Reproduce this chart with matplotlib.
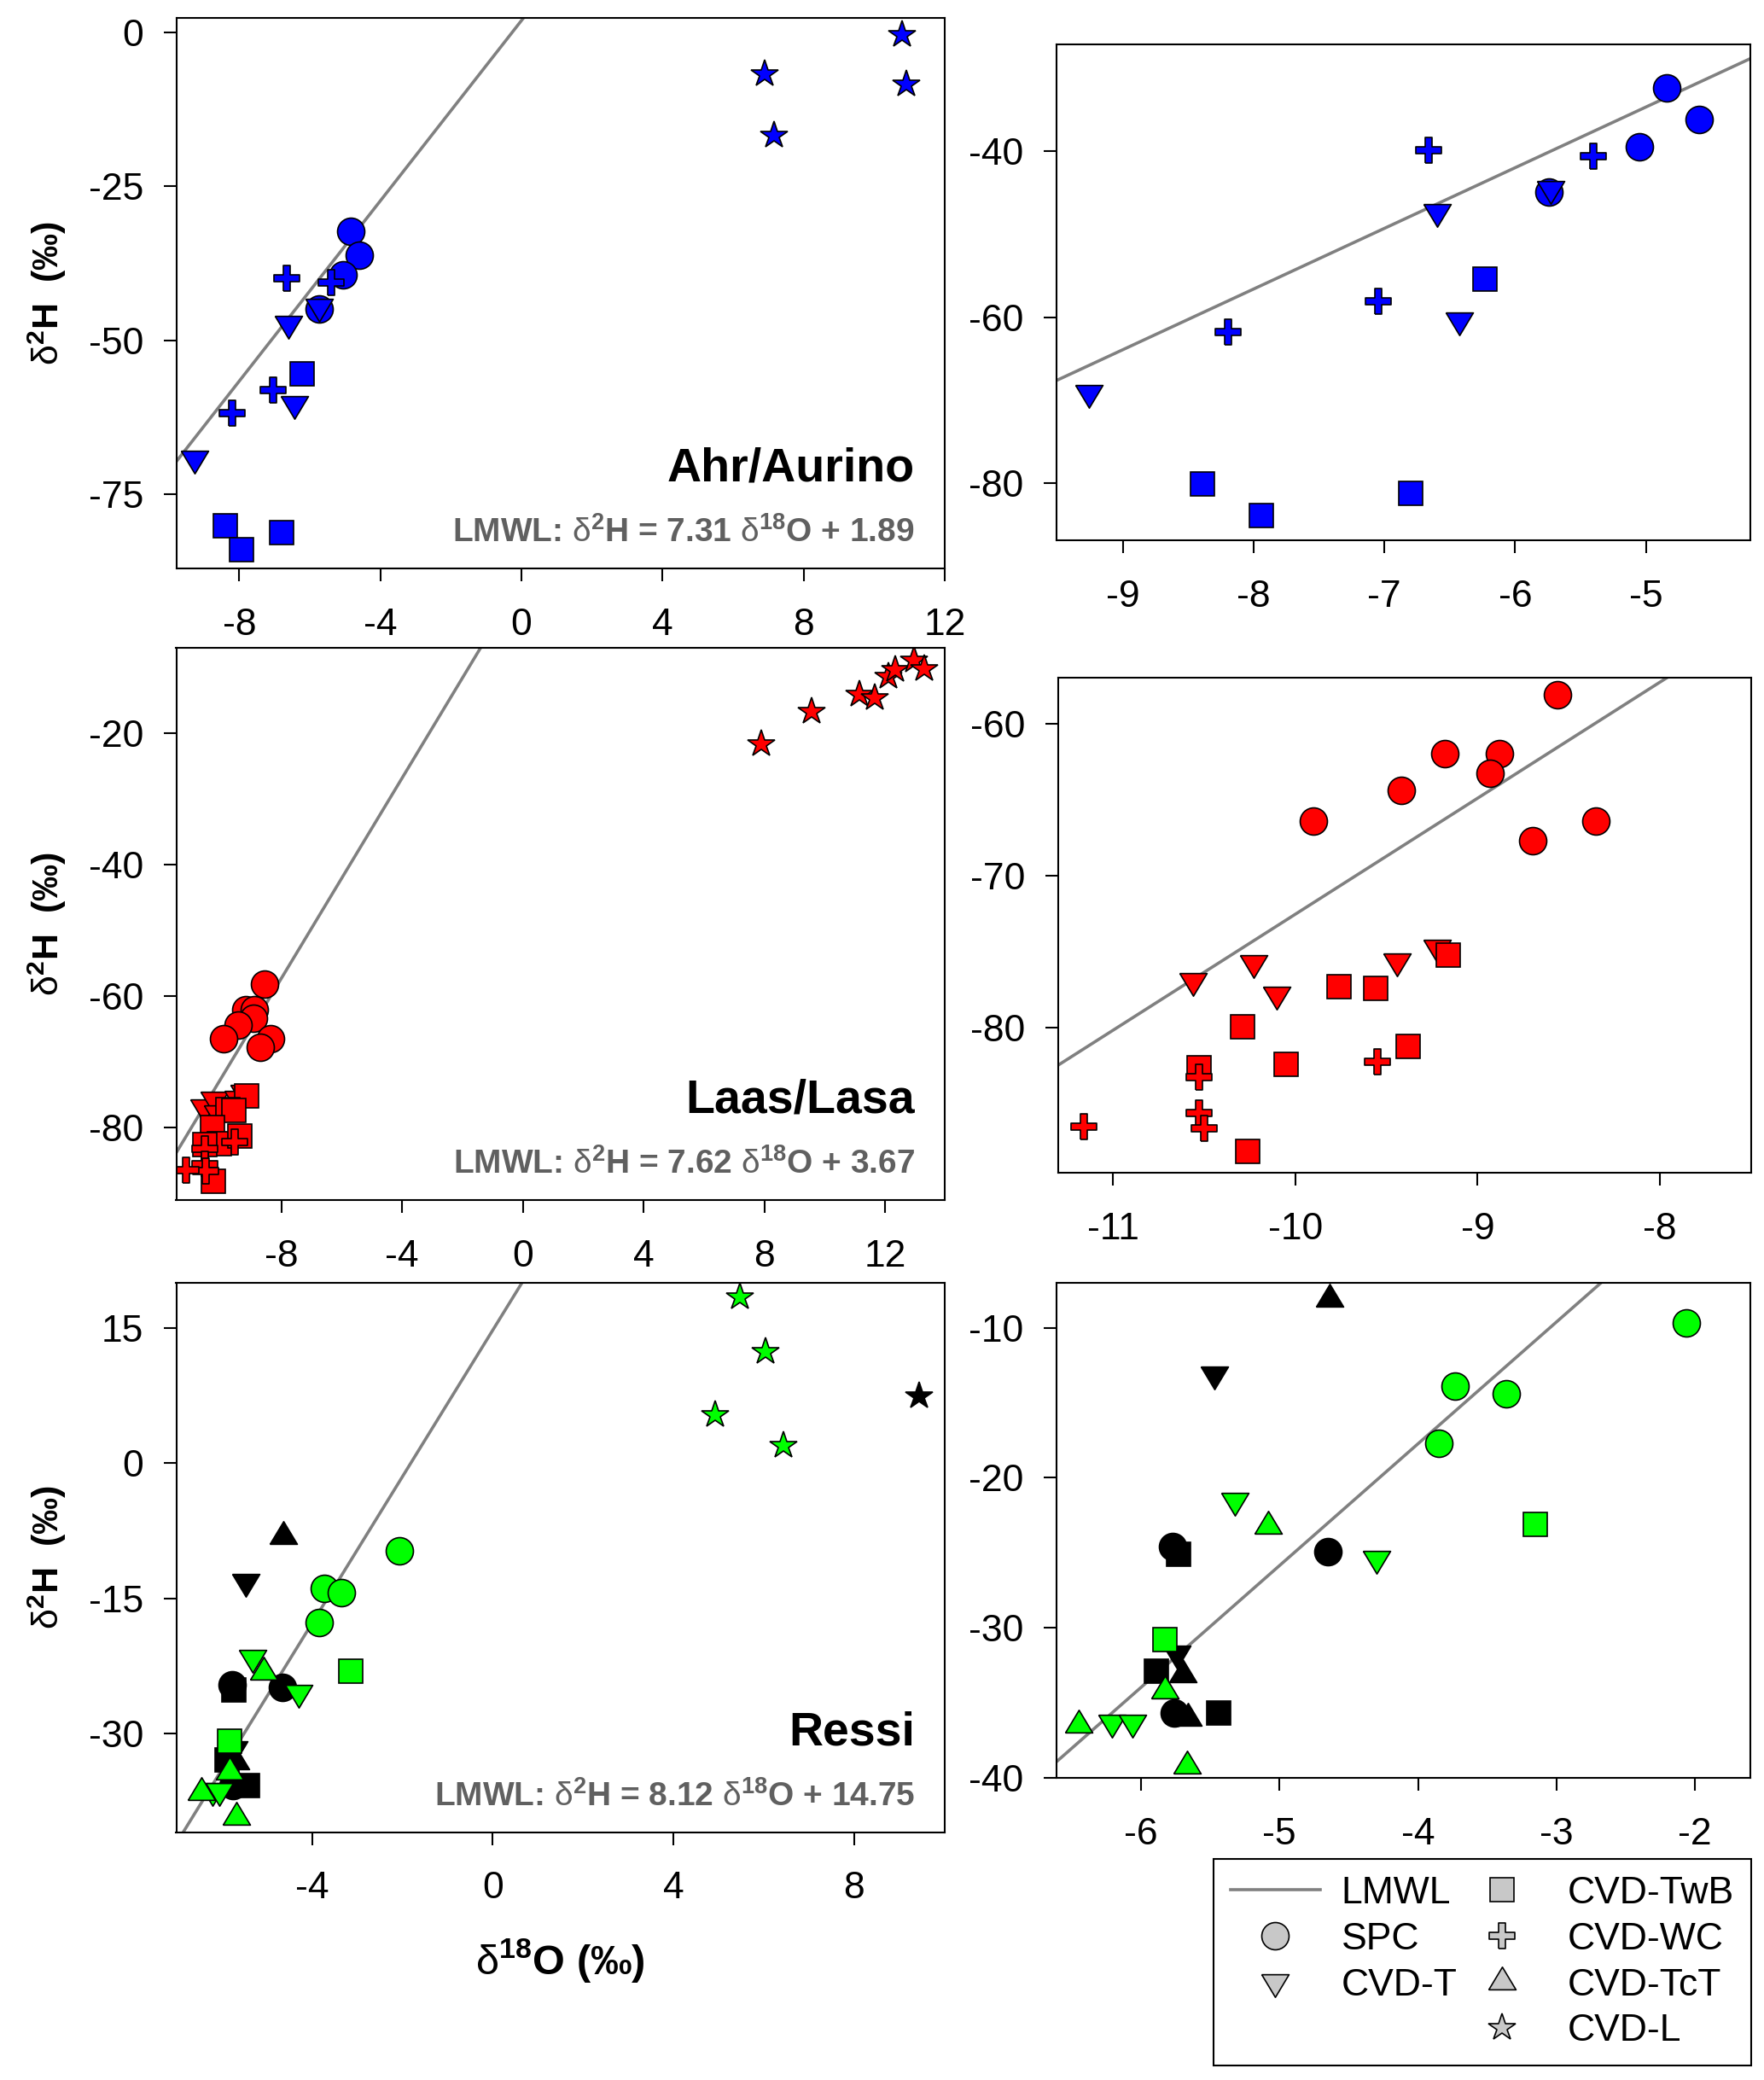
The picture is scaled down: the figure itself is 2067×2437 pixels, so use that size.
import numpy as np
import matplotlib
matplotlib.use('Agg')
import matplotlib.pyplot as plt
from matplotlib.lines import Line2D

plt.rcParams['font.family'] = ['Liberation Sans', 'DejaVu Sans']
plt.rcParams['mathtext.fontset'] = 'custom'
plt.rcParams['mathtext.rm'] = 'Liberation Sans'
plt.rcParams['mathtext.it'] = 'Liberation Sans:italic'
plt.rcParams['mathtext.bf'] = 'Liberation Sans:bold'
plt.rcParams['mathtext.default'] = 'regular'
plt.rcParams['axes.unicode_minus'] = False

# --- Ahr/Aurino (blue) ---
ahr_spc_x = [-4.84, -4.59, -5.05, -5.74]
ahr_spc_y = [-32.3, -36.2, -39.4, -44.9]
ahr_t_x = [-5.73, -6.60, -6.43, -9.26]
ahr_t_y = [-44.5, -47.3, -60.3, -69.1]
ahr_twb_x = [-6.23, -8.39, -7.94, -6.80]
ahr_twb_y = [-55.4, -80.1, -83.9, -81.2]
ahr_wc_x = [-6.66, -5.40, -7.05, -8.20]
ahr_wc_y = [-39.9, -40.6, -58.1, -61.8]
ahr_l_x = [10.8, 6.9, 10.9, 7.15]
ahr_l_y = [-0.5, -6.8, -8.5, -16.8]

# --- Laas/Lasa (red) ---
laas_spc_x = [-8.56, -9.18, -8.88, -8.93, -9.42, -9.90, -8.35, -8.70]
laas_spc_y = [-58.1, -62.0, -62.0, -63.3, -64.4, -66.4, -66.4, -67.7]
laas_t_x = [-10.56, -10.23, -10.10, -9.44, -9.22]
laas_t_y = [-76.9, -75.7, -77.8, -75.6, -74.7]
laas_twb_x = [-9.16, -9.76, -9.56, -10.29, -10.05, -9.38, -10.53, -10.26]
laas_twb_y = [-75.2, -77.3, -77.4, -79.9, -82.4, -81.2, -82.6, -88.1]
laas_wc_x = [-10.53, -9.55, -10.53, -10.50, -11.16]
laas_wc_y = [-83.2, -82.2, -85.6, -86.6, -86.5]
laas_l_x = [7.89, 9.57, 11.15, 11.66, 12.1, 12.33, 12.94, 13.29]
laas_l_y = [-21.7, -16.8, -14.2, -14.6, -11.4, -10.4, -9.0, -10.2]

# --- Ressi (green and black) ---
ressi_spc_x = [-2.06, -3.73, -3.36, -3.85]
ressi_spc_y = [-9.7, -13.9, -14.4, -17.7]
ressi_t_x = [-5.32, -4.30, -6.21, -6.06]
ressi_t_y = [-21.5, -25.4, -36.3, -36.3]
ressi_twb_x = [-3.15, -5.83]
ressi_twb_y = [-23.1, -30.8]
ressi_tct_x = [-5.08, -6.45, -5.83, -5.67]
ressi_tct_y = [-23.2, -36.5, -34.2, -39.2]
ressi_l_x = [5.48, 6.04, 4.92, 6.44]
ressi_l_y = [18.4, 12.3, 5.3, 1.9]

ressi_k_spc_x = [-5.77, -4.65, -5.76]
ressi_k_spc_y = [-24.6, -24.9, -35.7]
ressi_k_t_x = [-5.47, -5.74]
ressi_k_t_y = [-13.1, -31.7]
ressi_k_twb_x = [-5.73, -5.89, -5.44]
ressi_k_twb_y = [-25.1, -32.9, -35.7]
ressi_k_tct_x = [-4.64, -5.70, -5.66]
ressi_k_tct_y = [-8.1, -33.1, -36.0]
ressi_k_l_x = [9.45]
ressi_k_l_y = [7.4]

# LMWL slope / intercept
lmwl_ahr = (7.31, 1.89)
lmwl_laas = (7.62, 3.67)
lmwl_ressi = (8.12, 14.75)

# custom marker shapes
tri_down = [(-1, 0.555), (1, 0.555), (0, -1.11), (-1, 0.555)]
tri_up = [(-1, -0.555), (1, -0.555), (0, 1.11), (-1, -0.555)]
a = 0.24
plus = [(-a, -1), (a, -1), (a, -a), (1, -a), (1, a), (a, a), (a, 1), (-a, 1),
        (-a, a), (-1, a), (-1, -a), (-a, -a), (-a, -1)]

mk = {'spc': ('o', 23), 't': (tri_down, 25.5), 'twb': ('s', 20),
      'wc': (plus, 22), 'tct': (tri_up, 25.5), 'l': ('*', 24)}


def pts(ax, x, y, kind, color):
    m, s = mk[kind]
    ax.plot(x, y, linestyle='none', marker=m, markersize=s, markerfacecolor=color,
            markeredgecolor='black', markeredgewidth=1.2)


W, H = 2067, 2437
fig = plt.figure(figsize=(W / 100, H / 100), dpi=100)


def box(l, t, r, b):
    return [l / W, 1 - b / H, (r - l) / W, (b - t) / H]


axes = {
    'tl': fig.add_axes(box(206.5, 21, 1107, 666)),
    'tr': fig.add_axes(box(1238, 52, 2051, 633)),
    'ml': fig.add_axes(box(206.5, 759, 1107, 1406)),
    'mr': fig.add_axes(box(1240, 794, 2052, 1374)),
    'bl': fig.add_axes(box(206.5, 1503, 1107, 2146.5)),
    'br': fig.add_axes(box(1238, 1503, 2051, 2083)),
}

gray = '#808080'
lw_line = 2.6
for key in ['tl', 'tr']:
    ax = axes[key]
    ax.axline((0, lmwl_ahr[1]), slope=lmwl_ahr[0], color=gray, lw=lw_line)
    pts(ax, ahr_spc_x, ahr_spc_y, 'spc', '#0000FF')
    pts(ax, ahr_t_x, ahr_t_y, 't', '#0000FF')
    pts(ax, ahr_twb_x, ahr_twb_y, 'twb', '#0000FF')
    pts(ax, ahr_wc_x, ahr_wc_y, 'wc', '#0000FF')
    pts(ax, ahr_l_x, ahr_l_y, 'l', '#0000FF')

for key in ['ml', 'mr']:
    ax = axes[key]
    ax.axline((0, lmwl_laas[1]), slope=lmwl_laas[0], color=gray, lw=lw_line)
    pts(ax, laas_spc_x, laas_spc_y, 'spc', '#FF0000')
    pts(ax, laas_t_x, laas_t_y, 't', '#FF0000')
    pts(ax, laas_twb_x, laas_twb_y, 'twb', '#FF0000')
    pts(ax, laas_wc_x, laas_wc_y, 'wc', '#FF0000')
    pts(ax, laas_l_x, laas_l_y, 'l', '#FF0000')

for key in ['bl', 'br']:
    ax = axes[key]
    ax.axline((0, lmwl_ressi[1]), slope=lmwl_ressi[0], color=gray, lw=lw_line)
    pts(ax, ressi_k_spc_x, ressi_k_spc_y, 'spc', 'black')
    pts(ax, ressi_k_twb_x, ressi_k_twb_y, 'twb', 'black')
    pts(ax, ressi_k_t_x, ressi_k_t_y, 't', 'black')
    pts(ax, ressi_k_tct_x, ressi_k_tct_y, 'tct', 'black')
    pts(ax, ressi_k_l_x, ressi_k_l_y, 'l', 'black')
    pts(ax, ressi_spc_x, ressi_spc_y, 'spc', '#00FF00')
    pts(ax, ressi_t_x, ressi_t_y, 't', '#00FF00')
    pts(ax, ressi_twb_x, ressi_twb_y, 'twb', '#00FF00')
    pts(ax, ressi_tct_x, ressi_tct_y, 'tct', '#00FF00')
    pts(ax, ressi_l_x, ressi_l_y, 'l', '#00FF00')

limits = {
    'tl': ((-9.79, 12), (-87, 2.3), [-8, -4, 0, 4, 8, 12], [0, -25, -50, -75]),
    'tr': ((-9.51, -4.2), (-86.9, -27.1), [-9, -8, -7, -6, -5], [-40, -60, -80]),
    'ml': ((-11.48, 13.97), (-91, -7), [-8, -4, 0, 4, 8, 12], [-20, -40, -60, -80]),
    'mr': ((-11.30, -7.50), (-89.5, -57.0), [-11, -10, -9, -8], [-60, -70, -80]),
    'bl': ((-7.01, 10.01), (-40.9, 20.0), [-4, 0, 4, 8], [15, 0, -15, -30]),
    'br': ((-6.61, -1.60), (-40, -7.0), [-6, -5, -4, -3, -2], [-10, -20, -30, -40]),
}

for key, ax in axes.items():
    xl, yl, xt, yt = limits[key]
    ax.set_xlim(xl)
    ax.set_ylim(yl)
    ax.set_xticks(xt)
    ax.set_yticks(yt)
    for sp in ax.spines.values():
        sp.set_linewidth(1.5)
    ax.tick_params(direction='out', length=10.8, width=1.5, labelsize=32,
                   top=False, right=False)
    ax.tick_params(axis='x', pad=22)
    ax.tick_params(axis='y', pad=17)

names = {'tl': ('Ahr/Aurino', r'LMWL: $\mathrm{\delta}^{2}$H = 7.31 $\mathrm{\delta}^{18}$O + 1.89'),
         'ml': ('Laas/Lasa', r'LMWL: $\mathrm{\delta}^{2}$H = 7.62 $\mathrm{\delta}^{18}$O + 3.67'),
         'bl': ('Ressi', r'LMWL: $\mathrm{\delta}^{2}$H = 8.12 $\mathrm{\delta}^{18}$O + 14.75')}
for key, (nm, eq) in names.items():
    ax = axes[key]
    ax.text(0.961, 0.18, nm, transform=ax.transAxes, ha='right', va='center',
            fontsize=40, fontweight='bold')
    ax.text(0.961, 0.065, eq, transform=ax.transAxes, ha='right', va='center',
            fontsize=28, fontweight='bold', color='#606060')
    ax.set_ylabel(r'$\mathrm{\delta}^{2}$H  (‰)', fontsize=31, fontweight='bold')
    ax.yaxis.set_label_coords(-0.14, 0.5)

axes['bl'].set_xlabel(r'$\mathrm{\delta}^{18}$O (‰)', fontsize=35, fontweight='bold')
axes['bl'].xaxis.set_label_coords(0.5, -0.19)

# legend
lg = '#C8C8C8'
handles = [
    Line2D([], [], color=gray, lw=lw_line),
    Line2D([], [], ls='none', marker='o', ms=23, mfc=lg, mec='black', mew=1.2),
    Line2D([], [], ls='none', marker=tri_down, ms=25.5, mfc=lg, mec='black', mew=1.2),
    Line2D([], [], ls='none'),
    Line2D([], [], ls='none', marker='s', ms=20, mfc=lg, mec='black', mew=1.2),
    Line2D([], [], ls='none', marker=plus, ms=22, mfc=lg, mec='black', mew=1.2),
    Line2D([], [], ls='none', marker=tri_up, ms=25.5, mfc=lg, mec='black', mew=1.2),
    Line2D([], [], ls='none', marker='*', ms=24, mfc=lg, mec='black', mew=1.2),
]
labels = ['LMWL', 'SPC', 'CVD-T', '', 'CVD-TwB', 'CVD-WC', 'CVD-TcT', 'CVD-L']
leg = fig.legend(handles, labels, ncol=2, loc='center',
                 bbox_to_anchor=(0.8404, 0.0566), fontsize=32, frameon=True,
                 fancybox=False, edgecolor='black', framealpha=1,
                 handlelength=2.36, handletextpad=0.56, columnspacing=0.0,
                 borderpad=0.44, labelspacing=0.29, numpoints=1)
leg.get_frame().set_linewidth(1.5)

fig.savefig('out.png', dpi=100)
